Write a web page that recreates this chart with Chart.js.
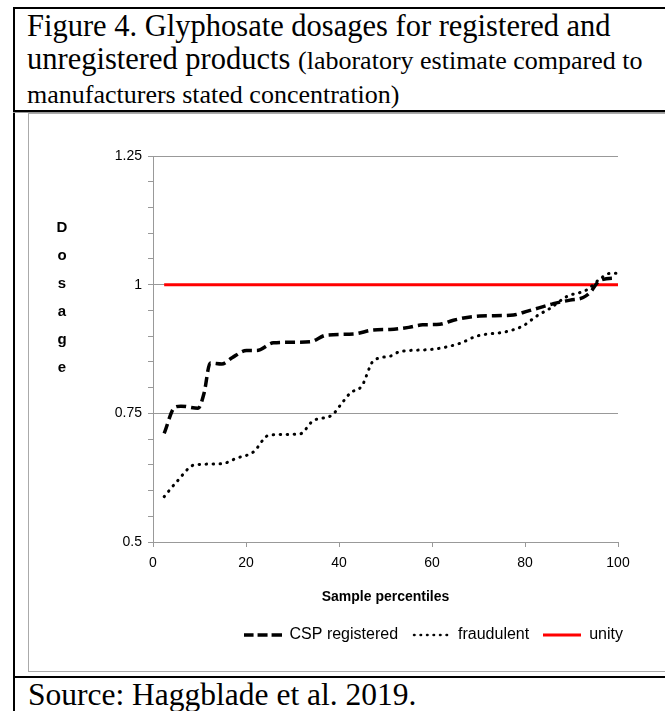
<!DOCTYPE html>
<html>
<head>
<meta charset="utf-8">
<script src="https://cdn.jsdelivr.net/npm/chart.js@4/dist/chart.umd.min.js"></script>
<style>
  body { margin: 0; background: #fff; width: 665px; height: 711px; overflow: hidden; position: relative; }
  .abs { position: absolute; }
  .serif { font-family: "Liberation Serif", "Times New Roman", serif; color: #000; white-space: nowrap; }
</style>
</head>
<body>
<!-- outer frame -->
<div class="abs" style="left:13px;top:7px;width:2px;height:704px;background:#000"></div>
<div class="abs" style="left:13px;top:7px;width:660px;height:2px;background:#000"></div>
<!-- title -->
<div class="abs serif" style="left:27px;top:10px;font-size:30.5px;line-height:33px">
  Figure 4. Glyphosate dosages for registered and<br>
  unregistered products <span style="font-size:26px">(laboratory estimate compared to</span><br>
  <span style="font-size:26px">manufacturers stated concentration)</span>
</div>
<div class="abs" style="left:13px;top:110px;width:660px;height:2px;background:#000"></div>
<div class="abs" style="left:13px;top:112px;width:660px;height:1px;background:#999"></div>
<!-- chart inner frame -->
<div class="abs" style="left:28px;top:113px;width:660px;height:559px;border:1px solid #aaa;box-sizing:border-box"></div>
<div class="abs" style="left:29px;top:114px;width:636px;height:558px">
  <canvas id="chart" width="636" height="558"></canvas>
</div>
<!-- source -->
<div class="abs" style="left:13px;top:676px;width:660px;height:2px;background:#000"></div>
<div class="abs serif" style="left:28px;top:678px;font-size:31.5px;line-height:34px">Source: Haggblade et al. 2019.</div>

<script>
// sample percentiles and dosages
const cspPct = [2.4, 4.7, 6, 9.7, 11, 12.3, 14.8, 17, 20.1, 22.3, 25.9, 30, 33.8, 37.3, 43.1, 47.4, 51, 55, 58, 61.7, 64.6, 70.3, 77.5, 79.6, 83, 86.1, 89.7, 92.5, 94, 96.1, 99.7];
const cspDose = [0.711, 0.762, 0.764, 0.760, 0.79, 0.848, 0.846, 0.858, 0.872, 0.872, 0.887, 0.888, 0.889, 0.902, 0.904, 0.912, 0.913, 0.917, 0.922, 0.923, 0.931, 0.939, 0.941, 0.946, 0.955, 0.963, 0.970, 0.975, 0.985, 1.008, 1.013];

const fraudPct = [2.4, 5.1, 9, 14.8, 18, 21.6, 24.8, 28, 31.6, 34.5, 38.4, 40.9, 42.5, 44.9, 47.4, 51, 53.1, 59.6, 66, 69.6, 76.1, 79.6, 82.5, 85.4, 89, 93.3, 96.1, 98.3, 99.7];
const fraudDose = [0.588, 0.617, 0.650, 0.652, 0.663, 0.675, 0.707, 0.709, 0.710, 0.736, 0.746, 0.773, 0.79, 0.803, 0.852, 0.861, 0.870, 0.874, 0.886, 0.900, 0.909, 0.920, 0.939, 0.954, 0.977, 0.990, 1.011, 1.022, 1.022];

const unityPct = [2.4, 100];
const unityDose = [1, 1];

const yTickLabels = { 0.5: '0.5', 0.75: '0.75', 1: '1', 1.25: '1.25' };

const toPts = (xs, ys) => xs.map((x, i) => ({ x: x, y: ys[i] }));
const isMajor = v => Math.abs(v * 4 - Math.round(v * 4)) < 1e-6;
const labelFont = { family: '"Liberation Sans", Arial, sans-serif', size: 14 };

// little canvases used as legend symbols (legend ignores borderDash)
function legendLine(color, width, dash, cap) {
  const c = document.createElement('canvas');
  c.width = 38; c.height = 8;
  const g = c.getContext('2d');
  g.strokeStyle = color;
  g.lineWidth = width;
  g.lineCap = cap;
  g.setLineDash(dash);
  g.beginPath();
  g.moveTo(cap === 'round' ? 2 : 0, 4);
  g.lineTo(38, 4);
  g.stroke();
  return c;
}

// stacked vertical "Dosage" axis title
const yTitle = {
  id: 'yTitle',
  afterDraw(chart) {
    const ctx = chart.ctx;
    ctx.save();
    ctx.font = 'bold 15px "Liberation Sans", Arial, sans-serif';
    ctx.fillStyle = '#000';
    ctx.textAlign = 'center';
    ctx.textBaseline = 'middle';
    'Dosage'.split('').forEach((ch, i) => ctx.fillText(ch, 33, 114 + i * 28));
    ctx.restore();
  }
};

// nudge the legend to where Excel put it
const legendNudge = {
  id: 'legendNudge',
  afterLayout(chart) {
    const lg = chart.legend;
    lg.left += 19; lg.right += 19;
    lg.top += 3; lg.bottom += 3;
  }
};

new Chart(document.getElementById('chart'), {
  type: 'line',
  data: {
    datasets: [
      {
        label: 'CSP registered',
        data: toPts(cspPct, cspDose),
        borderColor: '#000',
        borderWidth: 3.5,
        borderDash: [10, 5],
        pointRadius: 0,
        pointStyle: legendLine('#000', 3.5, [10, 4], 'butt'),
        cubicInterpolationMode: 'monotone'
      },
      {
        label: 'fraudulent',
        data: toPts(fraudPct, fraudDose),
        borderColor: '#000',
        borderWidth: 3,
        borderDash: [0.5, 6.5],
        borderCapStyle: 'round',
        pointRadius: 0,
        pointStyle: legendLine('#000', 2.5, [0.5, 6], 'round'),
        cubicInterpolationMode: 'monotone'
      },
      {
        label: 'unity',
        data: toPts(unityPct, unityDose),
        borderColor: '#ff0000',
        borderWidth: 3,
        pointRadius: 0,
        pointStyle: legendLine('#ff0000', 3, [], 'butt')
      }
    ]
  },
  options: {
    responsive: false,
    animation: false,
    layout: { padding: { left: 0, right: 47, top: 42, bottom: 22 } },
    plugins: {
      tooltip: { enabled: false },
      legend: {
        position: 'bottom',
        align: 'end',
        labels: {
          usePointStyle: true,
          pointStyleWidth: 38,
          boxHeight: 14,
          padding: 14,
          color: '#000',
          font: { ...labelFont, size: 16 }
        }
      }
    },
    scales: {
      x: {
        type: 'linear',
        min: 0,
        max: 100,
        ticks: { stepSize: 20, color: '#000', font: labelFont, padding: 8 },
        grid: { drawOnChartArea: false, drawTicks: true, tickLength: 5, color: '#999' },
        border: { color: '#999' },
        title: { display: true, text: 'Sample percentiles', color: '#000', font: { ...labelFont, weight: 'bold' }, padding: { top: 10 } },
        afterFit(scale) { scale.height = 68; }
      },
      y: {
        min: 0.5,
        max: 1.25,
        ticks: {
          stepSize: 0.05,
          color: '#000',
          font: labelFont,
          padding: 6,
          autoSkip: false,
          callback: v => {
            const k = Math.round(v * 100) / 100;
            return isMajor(v) ? yTickLabels[k] : '';
          }
        },
        grid: {
          tickLength: 5,
          color: c => isMajor(c.tick.value) && c.tick.value > 0.5 ? '#999' : 'rgba(0,0,0,0)',
          tickColor: '#999'
        },
        border: { color: '#999' },
        afterFit(scale) { scale.width = 124; }
      }
    }
  },
  plugins: [yTitle, legendNudge]
});
</script>
</body>
</html>
